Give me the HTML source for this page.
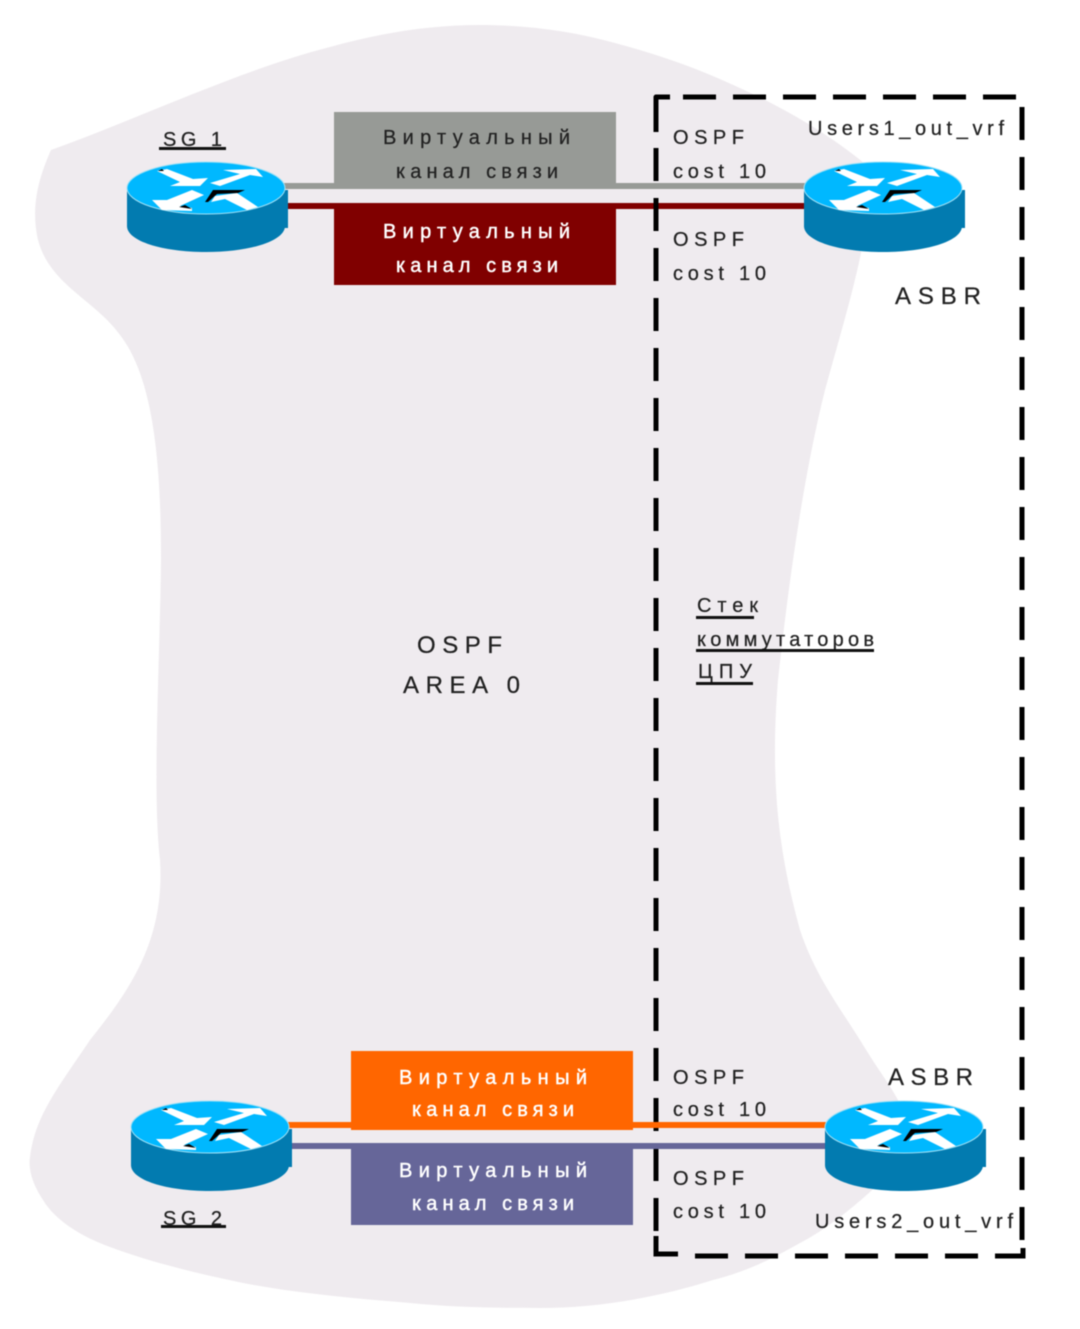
<!DOCTYPE html>
<html lang="ru">
<head>
<meta charset="utf-8">
<title>OSPF</title>
<style>
html,body{margin:0;padding:0;background:#fff}
svg{display:block;filter:blur(.45px)}
text{font-family:"Liberation Sans","Noto Sans CJK JP",sans-serif;fill:#222;font-size:20px;stroke:#222;stroke-width:.25px}
.w{fill:#fff;stroke:#fff;stroke-width:.45px}
.b{font-size:24px}
.dash{stroke:#000;stroke-width:5;fill:none;stroke-dasharray:33 17}
</style>
</head>
<body>
<svg width="1080" height="1329" viewBox="0 0 1080 1329" xmlns="http://www.w3.org/2000/svg">
<defs>
<symbol id="r" overflow="visible">
  <rect x="156" y="28" width="5" height="38" fill="#027bb0"/>
  <path d="M0 26V64C0 79 35 90 79 90S158 79 158 64V26Z" fill="#027bb0"/>
  <ellipse cx="79" cy="26" rx="79" ry="26" fill="#00b8ff" stroke="#9fe0f5" stroke-width="1"/>
  <path d="M30 9L40 7L66 17L81 16L73 24L43 24L53 20Z" fill="#fff"/>
  <path d="M83 21L113 12L96 8L129 7L136 15L123 13L93 24Z" fill="#fff"/>
  <path d="M25 38L40 38L65 28L77 33L53 44L65 46L65 49L35 48Z" fill="#fff"/>
  <path d="M88 34L110 31L131 45L120 48L98 37L84 40Z" fill="#fff"/>
  <path d="M78 40L86 28L118 28L111 31L90 32L81 40Z" fill="#000"/>
  <path d="M52 45L58 43L65 47Z" fill="#000"/>
  <path d="M31 9L35 7L37 9Z" fill="#000"/>
</symbol>
</defs>

<path d="M51 150C140 118 240 70 330 47C380 33 430 25 480 25C530 25 575 32 615 43C660 55 695 68 722 80C775 103 825 130 870 168C872 230 850 300 825 390C805 470 790 570 778 680C770 780 778 850 800 930C815 975 838 1005 860 1040C875 1065 890 1085 898 1100C905 1140 895 1170 870 1192C850 1210 825 1230 800 1243C770 1260 745 1272 713 1280C650 1300 590 1308 540 1308C490 1308 450 1307 410 1303C350 1298 295 1293 243 1283C195 1273 150 1262 110 1247C80 1236 55 1220 43 1200C33 1185 28 1170 30 1157C35 1115 60 1085 90 1040C130 990 165 940 160 860C152 790 160 660 161 560C161 470 155 380 120 335C95 300 50 285 38 240C30 205 40 175 51 150Z" fill="#efebef"/>

<rect x="334" y="112" width="282" height="77" fill="#979a96"/>
<rect x="334" y="205" width="282" height="80" fill="#800000"/>
<rect x="351" y="1051" width="282" height="79" fill="#ff6600"/>
<rect x="351" y="1147" width="282" height="78" fill="#666699"/>

<rect x="284" y="183" width="522" height="6" fill="#979a96"/>
<rect x="284" y="203" width="522" height="6" fill="#800000"/>

<g>
<line class="dash" x1="656" y1="148" x2="656" y2="1240"/>
<path d="M656 132V97H670" stroke="#000" stroke-width="5" fill="none" stroke-linejoin="round"/>
<line class="dash" x1="683" y1="97" x2="1020" y2="97"/>
<line class="dash" x1="1022" y1="107" x2="1022" y2="1240"/>
<path d="M656 1236V1254H678" stroke="#000" stroke-width="5" fill="none"/>
<line class="dash" x1="695" y1="1256" x2="990" y2="1256"/>
<path d="M995 1256H1023V1248" stroke="#000" stroke-width="5" fill="none"/>
</g>

<rect x="288" y="1122" width="540" height="6" fill="#ff6600"/>
<rect x="292" y="1143" width="536" height="6" fill="#666699"/>

<use href="#r" x="127" y="162"/>
<use href="#r" x="804" y="162"/>
<use href="#r" x="131" y="1101"/>
<use href="#r" x="825" y="1101"/>

<text x="383" y="144" textLength="187">Виртуальный</text>
<text x="396" y="178" textLength="162">канал связи</text>
<text class="w" x="383" y="238" textLength="187">Виртуальный</text>
<text class="w" x="396" y="272" textLength="162">канал связи</text>
<text class="w" x="399" y="1084" textLength="188">Виртуальный</text>
<text class="w" x="412" y="1116" textLength="162">канал связи</text>
<text class="w" x="399" y="1177" textLength="188">Виртуальный</text>
<text class="w" x="412" y="1210" textLength="162">канал связи</text>

<text x="673" y="144" textLength="71">OSPF</text>
<text x="673" y="178" textLength="93">cost 10</text>
<text x="673" y="246" textLength="71">OSPF</text>
<text x="673" y="280" textLength="93">cost 10</text>
<text x="673" y="1084" textLength="71">OSPF</text>
<text x="673" y="1116" textLength="93">cost 10</text>
<text x="673" y="1185" textLength="71">OSPF</text>
<text x="673" y="1218" textLength="93">cost 10</text>

<text x="808" y="135" textLength="196">Users1_out_vrf</text>
<text x="815" y="1228" textLength="198">Users2_out_vrf</text>
<text class="b" x="895" y="304" textLength="86">ASBR</text>
<text class="b" x="888" y="1085" textLength="85">ASBR</text>

<text x="163" y="146" textLength="59">SG 1</text>
<rect x="159" y="147" width="67" height="3" fill="#111"/>
<text x="163" y="1225" textLength="59">SG 2</text>
<rect x="161" y="1225" width="65" height="3" fill="#111"/>

<text x="697" y="612" textLength="61">Стек</text>
<rect x="696" y="616" width="58" height="3" fill="#111"/>
<text x="697" y="646" textLength="177">коммутаторов</text>
<rect x="696" y="649" width="178" height="3" fill="#111"/>
<text x="698" y="678" textLength="54">ЦПУ</text>
<rect x="696" y="682" width="57" height="3" fill="#111"/>

<text class="b" x="417" y="653" textLength="85">OSPF</text>
<text class="b" x="403" y="693" textLength="117">AREA 0</text>
</svg>
</body>
</html>
